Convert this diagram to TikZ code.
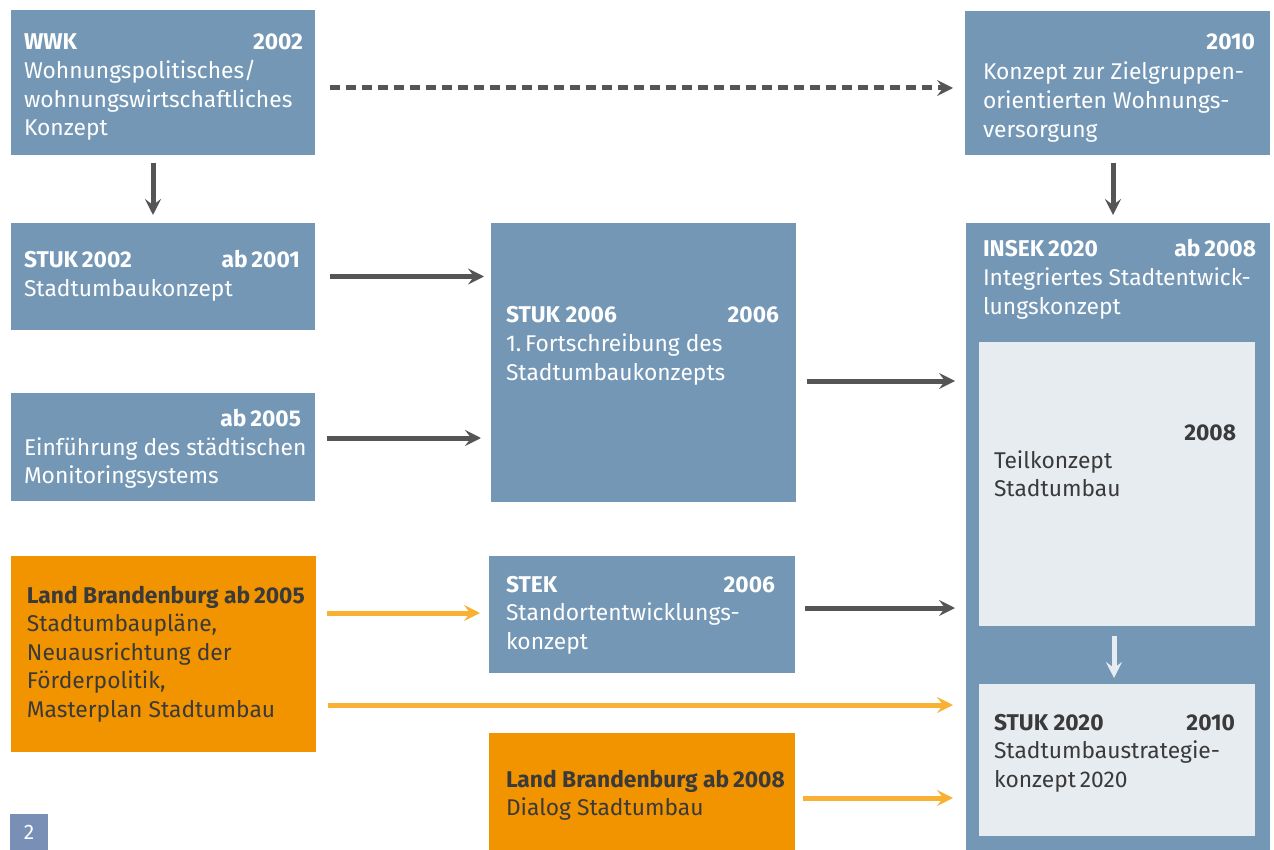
\documentclass[tikz,border=0pt]{standalone}
\usepackage{fontspec}
\setmainfont{Fira Sans}
\usetikzlibrary{arrows.meta,calc}
\definecolor{boxblue}{HTML}{7397B5}
\definecolor{boxorange}{HTML}{F29400}
\definecolor{boxlight}{HTML}{E7ECF1}
\definecolor{numblue}{HTML}{7A8FB6}
\definecolor{arrdark}{HTML}{555555}
\definecolor{arrorange}{HTML}{F8B133}
\definecolor{txtdark}{HTML}{3A3A3A}
\newcommand\mylines[1]{\begin{tabular}[t]{@{}l@{}}#1\end{tabular}}
\tikzset{
  blk/.style={inner sep=0pt, outer sep=0pt, anchor=north west, draw=none},
  bluebox/.style={blk, fill=boxblue},
  orangebox/.style={blk, fill=boxorange},
  lightbox/.style={blk, fill=boxlight},
  txt/.style={inner sep=0pt, outer sep=0pt, anchor=base west, font=\fontsize{22.8}{28.6}\selectfont, text=white},
  yr/.style={txt, anchor=base east, font=\fontsize{22.8}{28.6}\selectfont\bfseries},
  dk/.style={text=txtdark},
  tip/.style={-{Stealth[length=16pt,width=16pt,inset=6pt]}},
  conn/.style={tip, line width=5pt, draw=arrdark},
  oconn/.style={tip, line width=5pt, draw=arrorange},
  lconn/.style={tip, line width=5pt, draw=boxlight},
}
\begin{document}
\begin{tikzpicture}[x=1pt,y=-1pt]
\useasboundingbox (0,0) rectangle (1274,850);
% boxes
\node[bluebox, minimum width=304pt, minimum height=145pt] (wwk) at (11,10) {};
\node[bluebox, minimum width=305pt, minimum height=144pt] (zg) at (965,11) {};
\node[bluebox, minimum width=304pt, minimum height=107pt] (stuk02) at (11,223) {};
\node[bluebox, minimum width=304pt, minimum height=108pt] (mon) at (11,393) {};
\node[bluebox, minimum width=305pt, minimum height=279pt] (stuk06) at (491,223) {};
\node[bluebox, minimum width=304pt, minimum height=627pt] (insek) at (966,223) {};
\node[lightbox, minimum width=276pt, minimum height=284pt] (teil) at (979,342) {};
\node[lightbox, minimum width=276pt, minimum height=152pt] (stuk20) at (979,684) {};
\node[orangebox, minimum width=305pt, minimum height=196pt] (lb05) at (11,556) {};
\node[bluebox, minimum width=306pt, minimum height=117pt] (stek) at (489,556) {};
\node[orangebox, minimum width=306pt, minimum height=117pt] (lb08) at (489,733) {};
\node[blk, fill=numblue, minimum width=38pt, minimum height=36pt] (num) at (10,814) {};
\node[inner sep=0pt, text=white, font=\fontsize{21}{24}\selectfont] (numt) at (num.center) {2};
% texts
\node[txt] (wwkt) at (24,50) {\mylines{\textbf{WWK}\\Wohnungspolitisches/\\wohnungswirtschaftliches\\Konzept}};
\node[yr] (wwky) at (303,50) {2002};
\node[yr] (zgy) at (1255,50) {2010};
\node[txt] (zgt) at (983,80) {\mylines{Konzept zur Zielgruppen-\\orientierten Wohnungs-\\versorgung}};
\node[txt] (stuk02t) at (24,268) {\mylines{\textbf{STUK\,2002}\\Stadtumbaukonzept}};
\node[yr] (stuk02y) at (300,268) {ab\,2001};
\node[yr] (mony) at (301,426) {ab\,2005};
\node[txt] (mont) at (24,455) {\mylines{Einführung des städtischen\\Monitoringsystems}};
\node[txt] (stuk06t) at (506,323) {\mylines{\textbf{STUK 2006}\\1.\,Fortschreibung des\\Stadtumbaukonzepts}};
\node[yr] (stuk06y) at (779,323) {2006};
\node[txt] (insekt) at (983,257) {\mylines{\textbf{INSEK\,2020}\\Integriertes Stadtentwick-\\lungskonzept}};
\node[yr] (iseky) at (1256,257) {ab\,2008};
\node[yr, dk] (teily) at (1236,440) {2008};
\node[txt, dk] (teilt) at (994,468) {\mylines{Teilkonzept\\Stadtumbau}};
\node[txt, dk] (stuk20t) at (994,730) {\mylines{\textbf{STUK 2020}\\Stadtumbaustrategie-\\konzept\,2020}};
\node[yr, dk] (stuk20y) at (1235,730) {2010};
\node[txt, dk] (lb05t) at (27,603) {\mylines{\textbf{Land Brandenburg ab\,2005}\\Stadtumbaupläne,\\Neuausrichtung der\\Förderpolitik,\\Masterplan Stadtumbau}};
\node[txt] (stekt) at (506,592) {\mylines{\textbf{STEK}\\Standortentwicklungs-\\konzept}};
\node[yr] (steky) at (775,592) {2006};
\node[txt, dk] (lb08t) at (506,787) {\mylines{\textbf{Land Brandenburg ab\,2008}\\Dialog Stadtumbau}};
% connectors
\draw[conn, dash pattern=on 10pt off 6pt, shorten <=15pt, shorten >=12pt]
  ([yshift=-5.5pt]wwk.east) -- ([yshift=-5.5pt]wwk.east -| zg.west);
\draw[conn, shorten <=8pt, shorten >=8pt]
  ([xshift=-10pt]wwk.south) -- ([xshift=-10pt]wwk.south |- stuk02.north);
\draw[conn, shorten <=8pt, shorten >=8pt]
  ([xshift=-4.5pt]zg.south) -- ([xshift=-4.5pt]zg.south |- insek.north);
\draw[conn, shorten <=15pt, shorten >=7pt]
  (stuk02.east) -- (stuk02.east -| stuk06.west);
\draw[conn, shorten <=12pt, shorten >=10pt]
  ([yshift=9pt]mon.east) -- ([yshift=9pt]mon.east -| stuk06.west);
\draw[conn, shorten <=11pt, shorten >=11pt]
  ([yshift=-18.5pt]stuk06.east) -- ([yshift=-18.5pt]stuk06.east -| insek.west);
\draw[oconn, shorten <=11pt, shorten >=9pt]
  ([yshift=41pt]lb05.east) -- ([yshift=41pt]lb05.east -| stek.west);
\draw[oconn, shorten <=12pt, shorten >=13pt]
  ([yshift=-51pt]lb05.east) -- ([yshift=-51pt]lb05.east -| insek.west);
\draw[conn, shorten <=10pt, shorten >=11pt]
  ([yshift=6.5pt]stek.east) -- ([yshift=6.5pt]stek.east -| insek.west);
\draw[oconn, shorten <=8pt, shorten >=13pt]
  ([yshift=-6.5pt]lb08.east) -- ([yshift=-6.5pt]lb08.east -| insek.west);
\draw[lconn, shorten <=10pt, shorten >=6pt]
  ([xshift=-3pt]teil.south) -- ([xshift=-3pt]teil.south |- stuk20.north);
\end{tikzpicture}
\end{document}
